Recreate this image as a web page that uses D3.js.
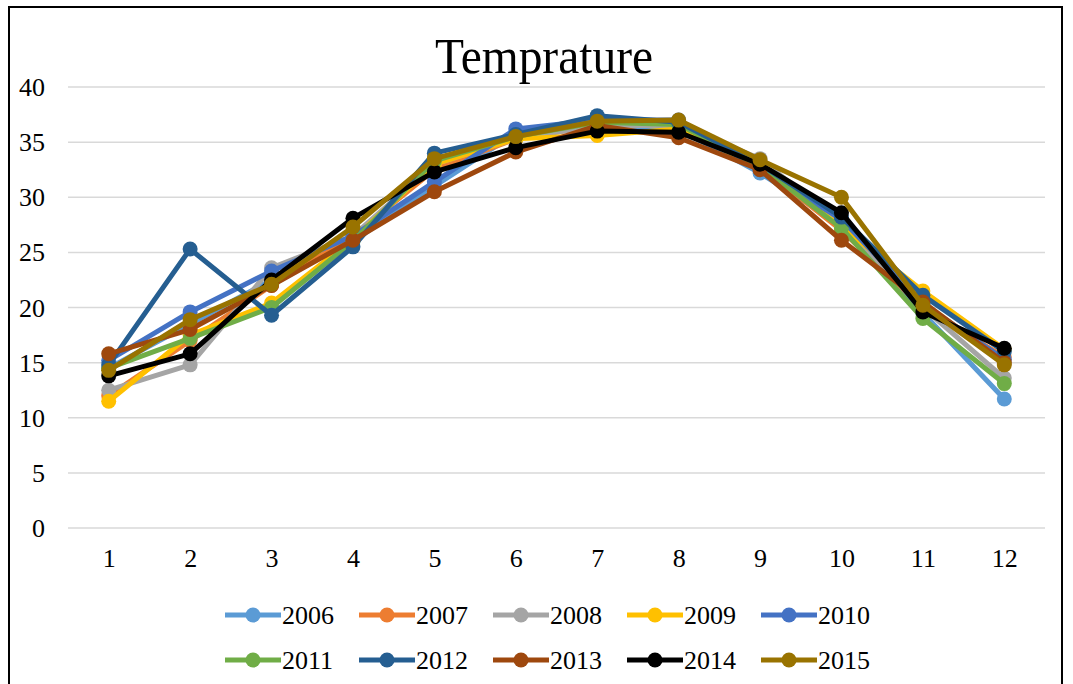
<!DOCTYPE html>
<html>
<head>
<meta charset="utf-8">
<script src="https://cdn.jsdelivr.net/npm/d3@7"></script>
<style>
  html, body { margin: 0; padding: 0; background: #fff; }
  svg { display: block; }
  text { font-family: "Liberation Serif", "Times New Roman", serif; fill: #000; }
</style>
</head>
<body>
<svg id="chart" width="1073" height="684"></svg>
<script>
// Monthly mean temperature, one series per year
const months = [1, 2, 3, 4, 5, 6, 7, 8, 9, 10, 11, 12];
const years = ["2006", "2007", "2008", "2009", "2010", "2011", "2012", "2013", "2014", "2015"];
const t2006 = [14.5, 18.5, 22.5, 26.0, 31.0, 35.8, 36.5, 36.2, 32.2, 27.5, 19.5, 11.7];
const t2007 = [12.0, 17.0, 22.0, 26.5, 32.5, 35.3, 36.5, 36.5, 32.8, 27.0, 20.0, 15.5];
const t2008 = [12.5, 14.8, 23.6, 26.5, 33.0, 35.3, 36.5, 36.5, 33.5, 27.5, 20.0, 13.6];
const t2009 = [11.5, 17.5, 20.4, 26.2, 33.0, 35.3, 35.6, 36.2, 32.8, 27.3, 21.5, 16.2];
const t2010 = [15.2, 19.6, 23.3, 26.5, 31.4, 36.2, 37.0, 37.0, 32.5, 28.0, 20.3, 15.3];
const t2011 = [14.5, 17.2, 20.0, 26.0, 33.3, 35.5, 36.8, 36.6, 32.8, 27.2, 19.0, 13.1];
const t2012 = [14.8, 25.3, 19.3, 25.5, 34.0, 35.7, 37.4, 36.8, 33.0, 28.2, 21.1, 16.0];
const t2013 = [15.8, 18.0, 22.0, 26.1, 30.5, 34.1, 36.5, 35.4, 32.5, 26.1, 20.5, 15.0];
const t2014 = [13.8, 15.8, 22.5, 28.1, 32.3, 34.5, 36.0, 35.9, 33.0, 28.6, 19.6, 16.3];
const t2015 = [14.3, 18.9, 22.1, 27.3, 33.5, 35.5, 36.9, 37.0, 33.4, 30.0, 20.2, 14.8];
const yTicks = [0, 5, 10, 15, 20, 25, 30, 35, 40];
const colors = ["#5B9BD5", "#ED7D31", "#A5A5A5", "#FFC000", "#4472C4",
                "#70AD47", "#255E91", "#9E480E", "#000000", "#997300"];

const seriesValues = [t2006, t2007, t2008, t2009, t2010, t2011, t2012, t2013, t2014, t2015];
const series = years.map((y, i) => ({ name: y, color: colors[i], values: seriesValues[i] }));

const svg = d3.select("#chart");
const plot = { left: 68, right: 1045, top: 87, bottom: 528 };
const FONT = "Liberation Serif";

// frame around the chart
svg.append("rect")
  .attr("x", 9).attr("y", 7).attr("width", 1053).attr("height", 700)
  .attr("fill", "#fff").attr("stroke", "#000").attr("stroke-width", 2);

// title
svg.append("text")
  .attr("x", 544).attr("y", 73)
  .attr("text-anchor", "middle")
  .attr("font-size", 50)
  .attr("textLength", 218).attr("lengthAdjust", "spacingAndGlyphs")
  .text("Temprature");

const x = d3.scalePoint().domain(months).range([plot.left, plot.right]).padding(0.5);
const y = d3.scaleLinear().domain([0, 40]).range([plot.bottom, plot.top]);

// horizontal gridlines
svg.append("g").selectAll("line").data(yTicks).join("line")
  .attr("x1", plot.left).attr("x2", plot.right)
  .attr("y1", d => y(d)).attr("y2", d => y(d))
  .attr("stroke", "#d9d9d9").attr("stroke-width", 1.5);

// y axis labels
const yAxis = d3.axisLeft(y).tickValues(yTicks).tickSize(0).tickPadding(0);
const gy = svg.append("g").attr("transform", `translate(${plot.left - 23},0)`).call(yAxis)
  .attr("font-family", FONT).attr("font-size", 26);
gy.select(".domain").remove();
gy.selectAll("text").attr("fill", "#000").attr("dy", "0.33em");

// x axis labels
const xAxis = d3.axisBottom(x).tickSize(0).tickPadding(0);
const gx = svg.append("g").attr("transform", `translate(0,${plot.bottom + 26})`).call(xAxis)
  .attr("font-family", FONT).attr("font-size", 26);
gx.select(".domain").remove();
gx.selectAll("text").attr("fill", "#000").attr("dy", "0.5em");

// series lines and markers
const line = d3.line().x((d, i) => x(months[i])).y(d => y(d));
const gs = svg.append("g").selectAll("g").data(series).join("g");
gs.append("path")
  .attr("d", d => line(d.values))
  .attr("fill", "none").attr("stroke", d => d.color)
  .attr("stroke-width", 5).attr("stroke-linejoin", "round");
gs.selectAll("circle").data(d => d.values.map(v => ({ v, c: d.color }))).join("circle")
  .attr("cx", (d, i) => x(months[i])).attr("cy", d => y(d.v))
  .attr("r", 7.5).attr("fill", d => d.c);

// legend: two rows of five
const lg = svg.append("g").selectAll("g").data(series).join("g")
  .attr("transform", (d, i) => `translate(${225 + (i % 5) * 134},${i < 5 ? 615 : 660})`);
lg.append("line").attr("x1", 0).attr("x2", 56).attr("y1", 0).attr("y2", 0)
  .attr("stroke", d => d.color).attr("stroke-width", 5);
lg.append("circle").attr("cx", 28).attr("cy", 0).attr("r", 7.5).attr("fill", d => d.color);
lg.append("text").attr("x", 57).attr("y", 0).attr("dy", "0.35em")
  .attr("font-family", FONT).attr("font-size", 26).text(d => d.name);
</script>
</body>
</html>
